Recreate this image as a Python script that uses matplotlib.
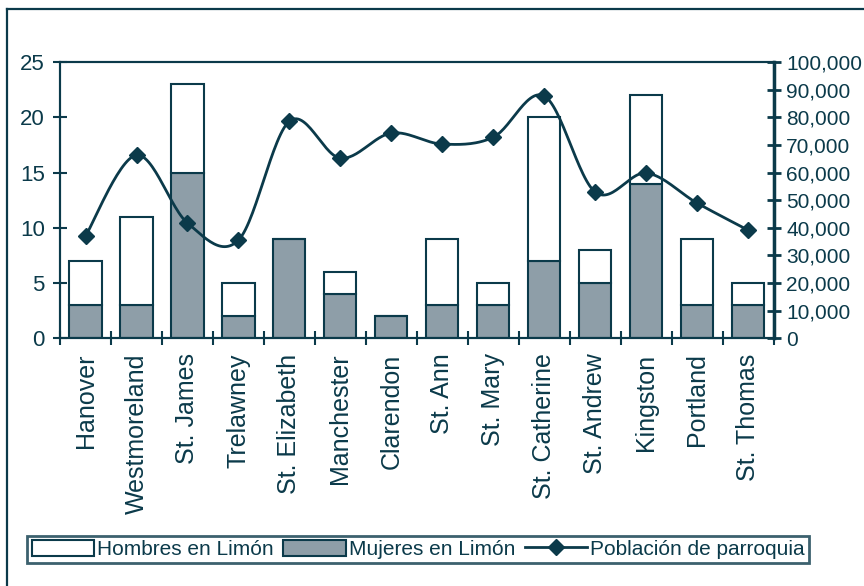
import numpy as np
import matplotlib.pyplot as plt
from matplotlib.lines import Line2D
from matplotlib.patches import Patch
from matplotlib.ticker import FuncFormatter, FixedLocator

plt.rcParams['font.family'] = ['Liberation Sans', 'DejaVu Sans']

# data
parroquias = ['Hanover', 'Westmoreland', 'St. James', 'Trelawney', 'St. Elizabeth',
              'Manchester', 'Clarendon', 'St. Ann', 'St. Mary', 'St. Catherine',
              'St. Andrew', 'Kingston', 'Portland', 'St. Thomas']
mujeres = [3, 3, 15, 2, 9, 4, 2, 3, 3, 7, 5, 14, 3, 3]
hombres = [4, 8, 8, 3, 0, 2, 0, 6, 2, 13, 3, 8, 6, 2]
poblacion = [37000, 66300, 41700, 35500, 78600, 65200, 74300,
             70300, 72800, 87700, 52900, 59800, 48900, 39100]

DARK = '#0b3a4a'
GRAY = '#8e9ea8'


def smooth(xs, ys, n=30):
    # bezier smoothing like a spreadsheet "smoothed line"
    p = np.column_stack([xs, ys]).astype(float)
    out = []
    for i in range(len(p) - 1):
        p0 = p[i - 1] if i > 0 else p[i]
        p1, p2 = p[i], p[i + 1]
        p3 = p[i + 2] if i + 2 < len(p) else p[i + 1]
        c1 = p1 + (p2 - p0) / 6
        c2 = p2 - (p3 - p1) / 6
        t = np.linspace(0, 1, n)[:, None]
        seg = ((1 - t) ** 3) * p1 + 3 * ((1 - t) ** 2) * t * c1 + 3 * (1 - t) * t ** 2 * c2 + t ** 3 * p2
        out.append(seg if i == 0 else seg[1:])
    out = np.vstack(out)
    return out[:, 0], out[:, 1]


fig = plt.figure(figsize=(8.64, 5.86), dpi=100)
ax = fig.add_axes([0.0695, 0.423, 0.826, 0.471])
ax2 = ax.twinx()

x = np.arange(len(parroquias))
ax.bar(x, mujeres, width=0.63, color=GRAY, edgecolor=DARK, linewidth=1.5)
ax.bar(x, hombres, width=0.63, bottom=mujeres, color='white', edgecolor=DARK, linewidth=1.5)

sx, sy = smooth(x, poblacion)
ax2.plot(sx, sy, color=DARK, lw=2)
ax2.plot(x, poblacion, ls='none', marker='D', ms=8, color=DARK)

ax.set_xlim(-0.5, len(parroquias) - 0.5)
ax.set_ylim(0, 25)
ax2.set_ylim(0, 100000)
ax.set_yticks(range(0, 26, 5))
ax2.set_yticks(range(0, 100001, 10000))
ax2.yaxis.set_major_formatter(FuncFormatter(lambda v, p: f'{int(v):,}'))

ax.set_xticks(x)
ax.set_xticklabels(parroquias, rotation=90)
ax.xaxis.set_minor_locator(FixedLocator(np.arange(-0.5, len(parroquias), 1)))
ax.tick_params(axis='x', which='major', length=0, pad=11, labelsize=18, labelcolor=DARK)
ax.tick_params(axis='x', which='minor', direction='inout', length=10, width=1.5, color=DARK)
ax.tick_params(axis='y', direction='inout', length=10, width=1.5, color=DARK,
               labelsize=16, labelcolor=DARK, pad=6)
ax2.tick_params(axis='y', direction='inout', length=10, width=2, color=DARK,
                labelsize=15, labelcolor=DARK, pad=4)

for a in (ax, ax2):
    for s in a.spines.values():
        s.set_color(DARK)
        s.set_linewidth(1.5)
ax2.spines['right'].set_linewidth(2.5)

handles = [Patch(facecolor='white', edgecolor=DARK, linewidth=1.5, label='Hombres en Limón'),
           Patch(facecolor=GRAY, edgecolor=DARK, linewidth=1.5, label='Mujeres en Limón'),
           Line2D([], [], color=DARK, lw=2, marker='D', ms=8, label='Población de parroquia')]
leg = fig.legend(handles=handles, loc='center', bbox_to_anchor=(0.484, 0.0625), ncol=3,
                 fontsize=15, frameon=True, fancybox=False, handlelength=3.0,
                 handleheight=0.8, handletextpad=0.15, columnspacing=0.45,
                 borderpad=0.2, borderaxespad=0, labelcolor=DARK)
leg.get_frame().set_edgecolor(DARK)
leg.get_frame().set_linewidth(2)

# outer frame
fig.add_artist(Line2D([7 / 864, 7 / 864], [0, 1 - 9 / 586], color=DARK, lw=1.6))
fig.add_artist(Line2D([7 / 864, 1], [1 - 9 / 586, 1 - 9 / 586], color=DARK, lw=1.6))

fig.savefig('out.png', dpi=100)
